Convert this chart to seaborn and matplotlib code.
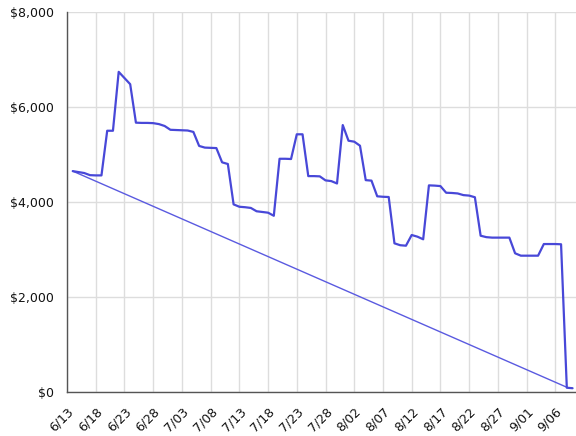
import pandas as pd
import numpy as np
import seaborn as sns
import matplotlib.pyplot as plt
import matplotlib.dates as mdates
from matplotlib.ticker import FuncFormatter

# daily remaining amount, 6/14 .. 9/09
start = '2013-06-14'
remaining = [4650, 4630, 4610, 4565, 4560, 4560, 5500, 5500, 6740, 6610,
             6480, 5670, 5665, 5665, 5660, 5640, 5600, 5520, 5515, 5510,
             5505, 5475, 5180, 5145, 5140, 5135, 4835, 4800, 3950, 3900,
             3890, 3875, 3805, 3790, 3775, 3710, 4910, 4910, 4905, 5425,
             5425, 4545, 4545, 4540, 4455, 4440, 4390, 5620, 5290, 5270,
             5185, 4460, 4450, 4120, 4110, 4105, 3130, 3090, 3080, 3305,
             3270, 3215, 4350, 4345, 4335, 4195, 4190, 4180, 4145, 4135,
             4100, 3290, 3260, 3250, 3250, 3250, 3250, 2920, 2870, 2870,
             2870, 2870, 3115, 3115, 3115, 3110, 90, 80]
ideal_dates = ['2013-06-14', '2013-09-08']
ideal_values = [4650, 100]
tick_start = '2013-06-13'
y_ticks = [0, 2000, 4000, 6000, 8000]

dates = pd.date_range(start, periods=len(remaining), freq='D')
df = pd.DataFrame({'date': dates, 'value': remaining})
ideal = pd.DataFrame({'date': pd.to_datetime(ideal_dates), 'value': ideal_values})

sns.set_style('white')
plt.rcParams['font.family'] = ['DejaVu Sans']

fig = plt.figure(figsize=(5.76, 4.36), dpi=100)
ax = fig.add_axes([0.1163, 0.1009, 0.8837, 0.8716])

sns.lineplot(data=ideal, x='date', y='value', ax=ax, color='#5a5ae0', linewidth=1.0)
sns.lineplot(data=df, x='date', y='value', ax=ax, color='#4848d8', linewidth=1.6)

xt = pd.date_range(tick_start, periods=18, freq='5D')
ax.set_xticks(xt)
ax.xaxis.set_major_formatter(mdates.DateFormatter('%-m/%d'))
ax.set_xlim(pd.Timestamp(tick_start), pd.Timestamp(tick_start) + pd.Timedelta(days=88.6))
ax.set_ylim(0, 8000)
ax.set_yticks(y_ticks)
ax.yaxis.set_major_formatter(FuncFormatter(lambda v, p: '${:,.0f}'.format(v)))

ax.grid(True, color='#dddddd', linewidth=1)
ax.set_axisbelow(True)
for s in ['top', 'right']:
    ax.spines[s].set_visible(False)
for s in ['left', 'bottom']:
    ax.spines[s].set_color('#555555')
    ax.spines[s].set_linewidth(1)
ax.tick_params(axis='both', direction='out', length=6, width=1, color='#222222',
               labelsize=9, labelcolor='#111111')
plt.setp(ax.get_xticklabels(), rotation=45, ha='right', rotation_mode='anchor')
ax.set_xlabel('')
ax.set_ylabel('')

fig.savefig('out.png', dpi=100)
